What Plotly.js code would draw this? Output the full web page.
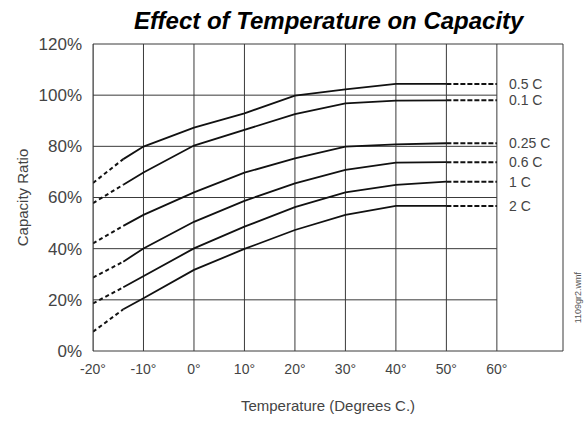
<!DOCTYPE html>
<html>
<head>
<meta charset="utf-8">
<script src="https://cdn.plot.ly/plotly-3.0.1.min.js"></script>
<style>html,body{margin:0;padding:0;background:#fff;}#chart{width:586px;height:422px;}</style>
</head>
<body>
<div id="chart"></div>
<script>
// Temperatures (°C) at which each curve was read
const temps = [-20, -14, -10, 0, 10, 20, 30, 40, 50, 60];
// Capacity ratio (%) for each discharge rate
const seriesNames = ['0.5 C', '0.1 C', '0.25 C', '0.6 C', '1 C', '2 C'];
const c05  = [65.7, 75.0, 79.9, 87.3, 92.9, 99.8, 102.3, 104.4, 104.4, 104.4];
const c01  = [57.8, 65.0, 69.8, 80.3, 86.4, 92.6, 96.8, 97.9, 98.0, 98.0];
const c025 = [42.1, 48.9, 53.2, 62.0, 69.7, 75.3, 79.9, 80.8, 81.2, 81.2];
const c06  = [28.7, 34.9, 40.1, 50.5, 58.7, 65.5, 70.8, 73.6, 73.8, 73.8];
const c1   = [18.6, 24.9, 29.3, 40.1, 48.6, 56.2, 62.0, 64.9, 66.2, 66.2];
const c2   = [7.5, 16.3, 20.6, 31.7, 39.9, 47.3, 53.2, 56.7, 56.7, 56.7];
const seriesValues = [c05, c01, c025, c06, c1, c2];

// Axis ticks
const xTicks = [-20, -10, 0, 10, 20, 30, 40, 50, 60];
const xTickLabels = ['-20°', '-10°', '0°', '10°', '20°', '30°', '40°', '50°', '60°'];
const yTicks = [0, 20, 40, 60, 80, 100, 120];
const yTickLabels = ['0%', '20%', '40%', '60%', '80%', '100%', '120%'];

const lineColor = '#111';
const traces = [];
seriesValues.forEach((vals, i) => {
  // dashed extrapolation at the cold end (first two points)
  traces.push({x: temps.slice(0, 2), y: vals.slice(0, 2), mode: 'lines', type: 'scatter',
    line: {color: lineColor, width: 2, dash: '4px,3px'}, hoverinfo: 'skip', showlegend: false});
  // measured solid part
  traces.push({x: temps.slice(1, 9), y: vals.slice(1, 9), mode: 'lines', type: 'scatter',
    name: seriesNames[i], line: {color: lineColor, width: 1.8}, showlegend: false});
  // dashed extension at the warm end
  traces.push({x: temps.slice(8), y: vals.slice(8), mode: 'lines', type: 'scatter',
    line: {color: lineColor, width: 2, dash: '5px,2px'}, hoverinfo: 'skip', showlegend: false});
});

const gridColor = '#3a3a3a';
const shapes = [];
xTicks.forEach(x => shapes.push({type: 'line', xref: 'x', yref: 'y', x0: x, x1: x, y0: 0, y1: 120,
  line: {color: gridColor, width: 1}, layer: 'below'}));
yTicks.slice(1, -1).forEach(y => shapes.push({type: 'line', xref: 'x', yref: 'y', x0: xTicks[0], x1: xTicks[xTicks.length - 1], y0: y, y1: y,
  line: {color: gridColor, width: 1}, layer: 'below'}));
shapes.push({type: 'rect', xref: 'paper', yref: 'paper', x0: 0, x1: 1, y0: 0, y1: 1,
  line: {color: gridColor, width: 1}});

const annotations = seriesNames.map((n, i) => ({
  x: temps[temps.length - 1], y: seriesValues[i][seriesValues[i].length - 1], xref: 'x', yref: 'y',
  text: n, showarrow: false, xanchor: 'left', yanchor: 'middle', xshift: 10,
  font: {family: 'Liberation Sans, Arial, sans-serif', size: 14, color: '#444'}
}));
annotations.push({x: 1.032, y: 0.175, xref: 'paper', yref: 'paper', text: '1109gr2.wmf',
  showarrow: false, textangle: -90, xanchor: 'center', yanchor: 'middle',
  font: {family: 'Liberation Sans, Arial, sans-serif', size: 9, color: '#555'}});

const layout = {
  width: 586, height: 422,
  margin: {l: 93, r: 23, t: 44, b: 71},
  paper_bgcolor: '#fff', plot_bgcolor: '#fff',
  title: {text: '<b><i>Effect of Temperature on Capacity</i></b>', x: 0.561, xanchor: 'center', y: 0.952, yanchor: 'middle',
    font: {family: 'Liberation Sans, Arial, sans-serif', size: 24, color: '#000'}},
  xaxis: {range: [-20, 73.1], tickvals: xTicks, ticktext: xTickLabels, showgrid: false, zeroline: false,
    showline: false, ticks: '', ticklabelstandoff: 8, fixedrange: true,
    tickfont: {family: 'Liberation Sans, Arial, sans-serif', size: 14, color: '#444'},
    title: {text: 'Temperature (Degrees C.)', standoff: 24,
      font: {family: 'Liberation Sans, Arial, sans-serif', size: 15, color: '#444'}}},
  yaxis: {range: [0, 120], tickvals: yTicks, ticktext: yTickLabels, showgrid: false, zeroline: false,
    showline: false, ticks: '', ticklabelstandoff: 10, fixedrange: true,
    tickfont: {family: 'Liberation Sans, Arial, sans-serif', size: 17, color: '#444'},
    title: {text: 'Capacity Ratio', standoff: 6,
      font: {family: 'Liberation Sans, Arial, sans-serif', size: 15, color: '#444'}}},
  shapes: shapes,
  annotations: annotations,
  showlegend: false
};

Plotly.newPlot('chart', traces, layout, {displayModeBar: false, staticPlot: true});
</script>
</body>
</html>
